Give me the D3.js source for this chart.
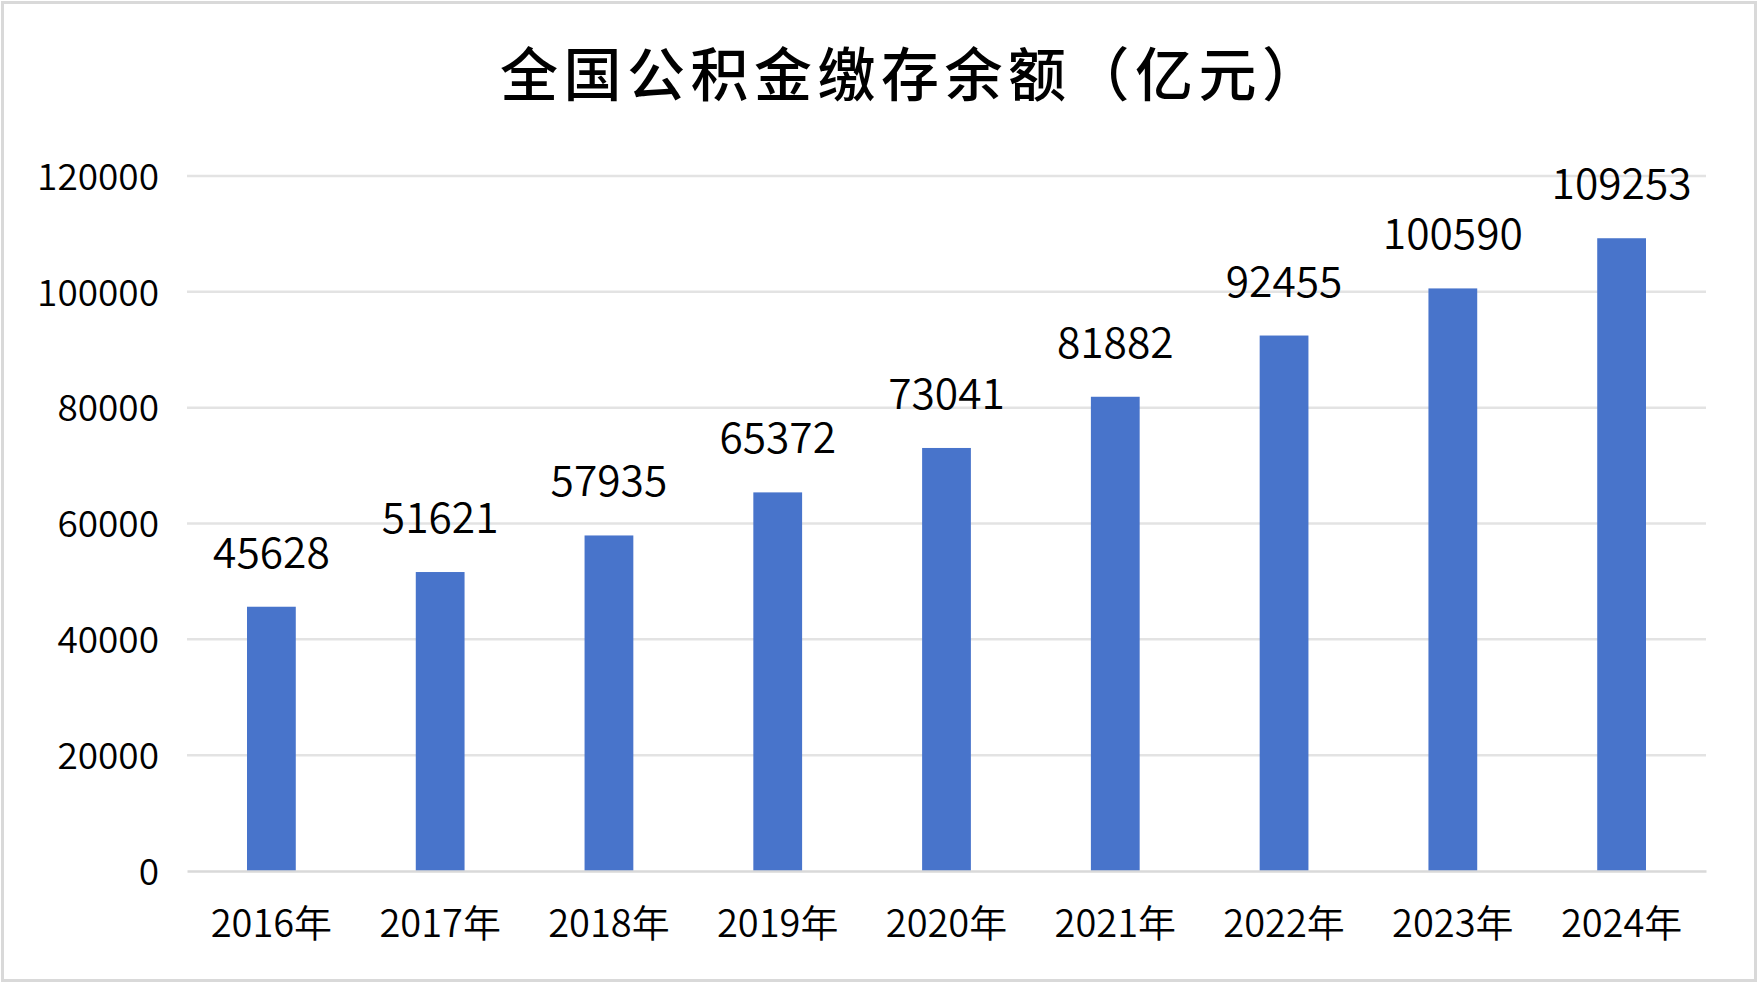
<!DOCTYPE html>
<html>
<head>
<meta charset="utf-8">
<script src="https://cdn.jsdelivr.net/npm/d3@7"></script>
<style>
	html, body { margin: 0; padding: 0; background: #fff; }
	svg { display: block; }
	text { font-family: "Noto Sans CJK SC", "Noto Sans", sans-serif; fill: #000; }
</style>
</head>
<body>
<svg id="chart"></svg>
<script>
var years = ['2016年', '2017年', '2018年', '2019年', '2020年', '2021年', '2022年', '2023年', '2024年'];
var balances = [45628, 51621, 57935, 65372, 73041, 81882, 92455, 100590, 109253];
var yTicks = [0, 20000, 40000, 60000, 80000, 100000, 120000];
var title = '全国公积金缴存余额（亿元）';

var width = 1759,
	height = 985;
var margin = {top: 176, right: 53, bottom: 114, left: 187};

var svg = d3.select('#chart')
	.attr('width', width)
	.attr('height', height);

// outer frame
svg.append('rect')
	.attr('x', 2.5)
	.attr('y', 2.5)
	.attr('width', width - 6)
	.attr('height', height - 7)
	.style('fill', '#fff')
	.style('stroke', '#d9d9d9')
	.style('stroke-width', 3);

svg.append('text')
	.attr('x', 500)
	.attr('y', 96)
	.attr('font-size', 58)
	.attr('font-weight', 500)
	.attr('letter-spacing', 5.5)
	.text(title);

var x = d3.scaleBand()
	.domain(years)
	.range([margin.left, width - margin.right])
	.paddingInner(0.711)
	.paddingOuter(0.3555);

var y = d3.scaleLinear()
	.domain([0, 120000])
	.range([height - margin.bottom, margin.top]);

// gridlines
svg.append('g')
	.selectAll('line')
	.data(yTicks.slice(1))
	.enter()
	.append('line')
	.attr('x1', margin.left)
	.attr('x2', width - margin.right)
	.attr('y1', function(d) { return y(d); })
	.attr('y2', function(d) { return y(d); })
	.style('stroke', '#e3e3e3')
	.style('stroke-width', 2.5);

var yAxis = svg.append('g')
	.attr('transform', 'translate(' + margin.left + ',0)')
	.call(d3.axisLeft(y).tickValues(yTicks).tickSize(0).tickPadding(28).tickFormat(d3.format('d')));

yAxis.select('.domain').remove();
yAxis.selectAll('text')
	.attr('font-size', 37)
	.attr('font-weight', 350)
	.attr('dy', '0.36em')
	.style('fill', '#000');

svg.selectAll('.bar')
	.data(balances)
	.enter()
	.append('rect')
	.attr('class', 'bar')
	.attr('x', function(d, i) { return x(years[i]); })
	.attr('y', function(d) { return y(d); })
	.attr('width', x.bandwidth())
	.attr('height', function(d) { return y(0) - y(d); })
	.style('fill', '#4874cb');

svg.selectAll('.value-label')
	.data(balances)
	.enter()
	.append('text')
	.attr('class', 'value-label')
	.attr('x', function(d, i) { return x(years[i]) + x.bandwidth() / 2; })
	.attr('y', function(d) { return y(d) - 39; })
	.attr('text-anchor', 'middle')
	.attr('font-size', 42.5)
	.attr('font-weight', 350)
	.text(function(d) { return d; });

var xAxis = svg.append('g')
	.attr('transform', 'translate(0,' + y(0) + ')')
	.call(d3.axisBottom(x).tickSize(0).tickPadding(0));

xAxis.select('.domain')
	.style('stroke', '#d9d9d9')
	.style('stroke-width', 2.5);

xAxis.selectAll('text')
	.attr('y', 66)
	.attr('dy', 0)
	.attr('font-size', 38)
	.attr('font-weight', 350)
	.style('fill', '#000');
</script>
</body>
</html>
